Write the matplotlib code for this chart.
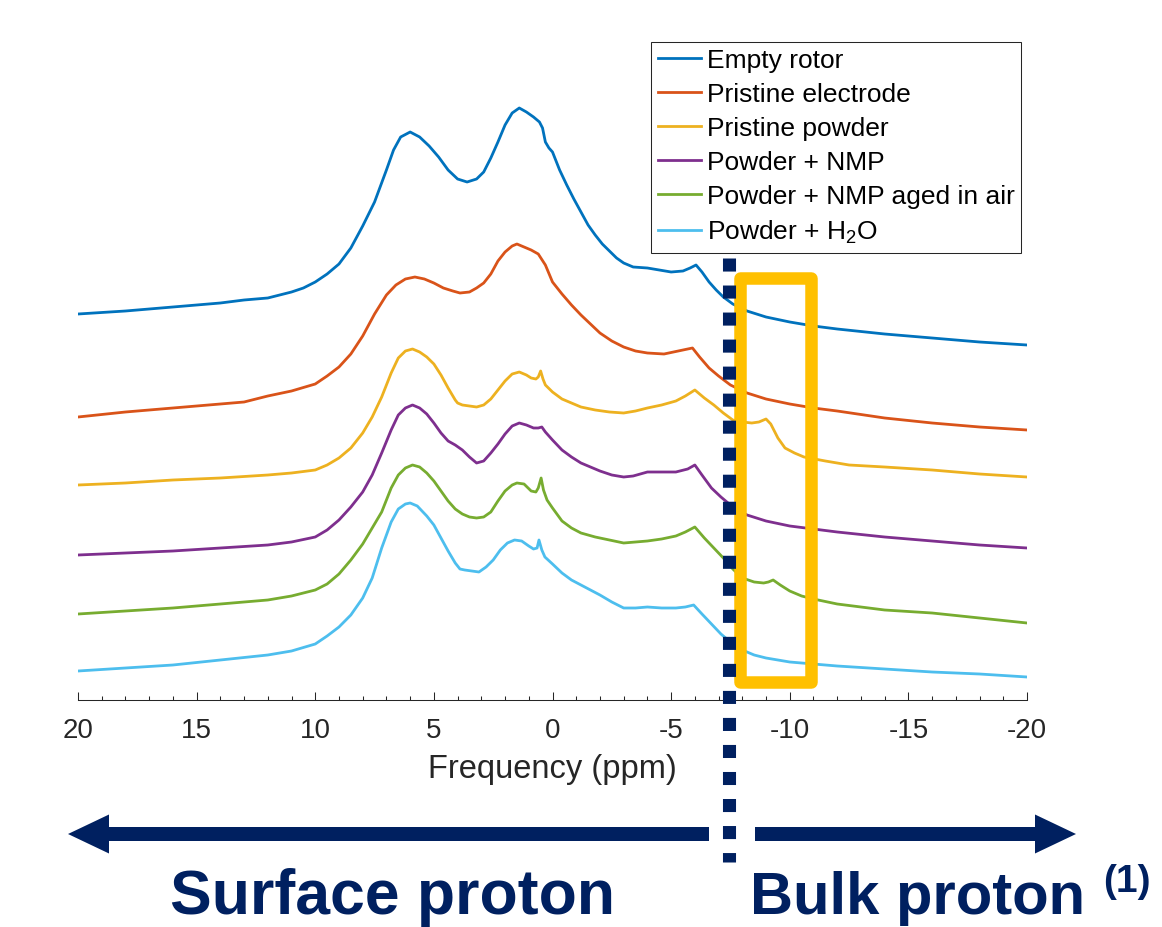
import matplotlib
matplotlib.use('Agg')
import matplotlib.pyplot as plt
from matplotlib.patches import FancyArrow, Rectangle
from matplotlib.ticker import MultipleLocator

plt.rcParams['font.family'] = ['Liberation Sans', 'DejaVu Sans']
plt.rcParams['mathtext.fontset'] = 'custom'
plt.rcParams['mathtext.rm'] = 'Liberation Sans'
plt.rcParams['mathtext.it'] = 'Liberation Sans:italic'
plt.rcParams['axes.unicode_minus'] = False

# 1H spectra (ppm, stacked intensity in a.u.)
empty_rotor_ppm = [20, 18, 16, 14, 13, 12, 11.5, 11, 10.5, 10, 9.5, 9, 8.5, 8, 7.5, 7, 6.7, 6.4,
                   6.0, 5.6, 5.2, 4.8, 4.4, 4.0, 3.6, 3.2, 2.9, 2.6, 2.3, 2.0, 1.7, 1.4, 1.1,
                   0.8, 0.55, 0.42, 0.3, 0.15, 0.0, -0.3, -0.6, -0.9, -1.2, -1.5, -1.8, -2.1,
                   -2.4, -2.7, -3.0, -3.4, -4.0, -4.5, -5.0, -5.5, -5.8, -6.05, -6.3, -6.6,
                   -6.9, -7.2, -7.6, -8.2, -9, -10, -11, -12, -14, -16, -18, -20]
empty_rotor = [3.86, 3.89, 3.93, 3.97, 4.00, 4.02, 4.05, 4.08, 4.12, 4.18, 4.26, 4.36, 4.52,
               4.74, 4.98, 5.30, 5.50, 5.63, 5.68, 5.63, 5.54, 5.43, 5.30, 5.21, 5.18, 5.21,
               5.28, 5.42, 5.58, 5.75, 5.87, 5.92, 5.88, 5.83, 5.78, 5.72, 5.58, 5.52, 5.48,
               5.30, 5.15, 5.01, 4.88, 4.75, 4.65, 4.56, 4.49, 4.42, 4.37, 4.33, 4.32, 4.30,
               4.28, 4.29, 4.32, 4.35, 4.28, 4.18, 4.10, 4.03, 3.96, 3.89, 3.83, 3.78, 3.74,
               3.71, 3.66, 3.62, 3.58, 3.55]

electrode_ppm = [20, 18, 16, 14, 13, 12, 11, 10, 9.5, 9, 8.5, 8, 7.5, 7, 6.6, 6.2, 5.8, 5.4,
                 5.0, 4.6, 4.2, 3.9, 3.5, 3.2, 2.9, 2.6, 2.3, 2.0, 1.7, 1.5, 1.2, 0.9, 0.6,
                 0.3, 0.0, -0.4, -0.8, -1.2, -1.6, -2.0, -2.5, -3.0, -3.5, -4.0, -4.7, -5.3,
                 -5.9, -6.2, -6.6, -7.0, -7.5, -8.2, -9, -10, -11, -12, -14, -16, -18, -20]
electrode = [2.83, 2.88, 2.92, 2.96, 2.98, 3.04, 3.09, 3.16, 3.24, 3.33, 3.46, 3.64, 3.86,
             4.05, 4.15, 4.21, 4.23, 4.21, 4.17, 4.12, 4.09, 4.07, 4.08, 4.12, 4.17, 4.26,
             4.39, 4.48, 4.54, 4.56, 4.53, 4.50, 4.46, 4.35, 4.18, 4.06, 3.95, 3.85, 3.76,
             3.67, 3.59, 3.53, 3.49, 3.47, 3.46, 3.49, 3.52, 3.43, 3.32, 3.24, 3.15, 3.07,
             3.01, 2.96, 2.92, 2.89, 2.82, 2.77, 2.73, 2.70]

powder_ppm = [20, 18, 16, 14, 12, 11, 10, 9.5, 9, 8.5, 8, 7.6, 7.2, 6.8, 6.5, 6.2, 5.9, 5.6,
              5.3, 5.0, 4.7, 4.4, 4.1, 4.0, 3.8, 3.5, 3.2, 2.9, 2.6, 2.3, 2.0, 1.7, 1.4, 1.1,
              0.9, 0.7, 0.6, 0.5, 0.4, 0.3, 0.0, -0.4, -0.8, -1.2, -1.8, -2.4, -3.0, -3.5,
              -4.0, -4.6, -5.2, -5.6, -6.0, -6.4, -6.8, -7.2, -7.6, -8.0, -8.4, -8.7, -9.0,
              -9.2, -9.5, -9.8, -10.2, -10.6, -11.5, -12.5, -14, -16, -18, -20]
powder = [2.15, 2.17, 2.20, 2.22, 2.25, 2.27, 2.30, 2.35, 2.42, 2.52, 2.67, 2.83, 3.03, 3.27,
          3.42, 3.49, 3.51, 3.48, 3.43, 3.36, 3.25, 3.12, 3.00, 2.97, 2.95, 2.94, 2.93, 2.95,
          3.01, 3.10, 3.19, 3.26, 3.28, 3.25, 3.22, 3.21, 3.23, 3.29, 3.21, 3.15, 3.08, 3.01,
          2.97, 2.93, 2.90, 2.88, 2.87, 2.89, 2.92, 2.95, 2.99, 3.04, 3.10, 3.02, 2.95, 2.87,
          2.80, 2.78, 2.77, 2.78, 2.81, 2.76, 2.62, 2.52, 2.47, 2.43, 2.39, 2.35, 2.33, 2.30,
          2.26, 2.23]

nmp_ppm = [20, 18, 16, 14, 12, 11, 10, 9.5, 9, 8.5, 8, 7.6, 7.2, 6.8, 6.5, 6.2, 5.9, 5.6,
           5.3, 5.0, 4.7, 4.4, 4.1, 3.8, 3.5, 3.2, 2.9, 2.6, 2.3, 2.0, 1.7, 1.4, 1.1, 0.8,
           0.6, 0.45, 0.3, 0.0, -0.4, -0.8, -1.2, -1.6, -2.0, -2.5, -3.0, -3.4, -4.0, -4.6,
           -5.2, -5.7, -6.0, -6.3, -6.7, -7.1, -7.6, -8.2, -9, -10, -11, -12, -14, -16,
           -18, -20]
nmp = [1.45, 1.47, 1.49, 1.52, 1.55, 1.58, 1.63, 1.70, 1.80, 1.93, 2.08, 2.25, 2.47, 2.70,
       2.85, 2.92, 2.95, 2.92, 2.86, 2.77, 2.67, 2.59, 2.55, 2.50, 2.43, 2.37, 2.39, 2.47,
       2.56, 2.66, 2.74, 2.77, 2.75, 2.72, 2.72, 2.73, 2.68, 2.60, 2.50, 2.43, 2.37, 2.33,
       2.29, 2.25, 2.23, 2.24, 2.28, 2.28, 2.28, 2.31, 2.35, 2.25, 2.12, 2.03, 1.93, 1.85,
       1.79, 1.74, 1.71, 1.68, 1.63, 1.59, 1.55, 1.52]

nmp_air_ppm = [20, 18, 16, 14, 12, 11, 10, 9.5, 9, 8.5, 8, 7.6, 7.2, 6.8, 6.5, 6.2, 5.9, 5.6,
               5.3, 5.0, 4.7, 4.4, 4.1, 3.8, 3.5, 3.2, 2.9, 2.6, 2.3, 2.0, 1.7, 1.5, 1.2, 0.9,
               0.7, 0.6, 0.48, 0.38, 0.23, 0.0, -0.4, -0.8, -1.2, -1.8, -2.4, -3.0, -3.5, -4.0,
               -4.6, -5.2, -5.6, -6.0, -6.4, -6.8, -7.2, -7.6, -8.0, -8.5, -8.9, -9.1, -9.3,
               -9.6, -10.0, -10.5, -11, -12, -14, -16, -18, -20]
nmp_air = [0.86, 0.89, 0.92, 0.96, 1.00, 1.04, 1.10, 1.16, 1.26, 1.40, 1.56, 1.72, 1.88, 2.12,
           2.25, 2.32, 2.35, 2.33, 2.27, 2.19, 2.09, 1.99, 1.91, 1.86, 1.83, 1.82, 1.83, 1.88,
           1.99, 2.09, 2.15, 2.17, 2.16, 2.09, 2.08, 2.12, 2.22, 2.10, 2.00, 1.92, 1.79, 1.72,
           1.67, 1.63, 1.60, 1.57, 1.58, 1.59, 1.61, 1.64, 1.68, 1.73, 1.62, 1.52, 1.42, 1.31,
           1.22, 1.18, 1.17, 1.18, 1.20, 1.15, 1.09, 1.04, 1.01, 0.96, 0.90, 0.87, 0.82, 0.77]

water_ppm = [20, 18, 16, 14, 12, 11, 10, 9.5, 9, 8.5, 8, 7.6, 7.2, 6.8, 6.5, 6.2, 6.0, 5.7,
             5.3, 5.0, 4.7, 4.4, 4.1, 3.9, 3.7, 3.4, 3.1, 2.8, 2.5, 2.2, 1.9, 1.6, 1.3, 1.0,
             0.8, 0.65, 0.57, 0.45, 0.32, 0.0, -0.4, -0.8, -1.2, -1.6, -2.0, -2.5, -3.0, -3.5,
             -4.0, -4.6, -5.2, -5.6, -5.95, -6.3, -6.7, -7.1, -7.5, -8.0, -8.5, -9, -10, -11,
             -12, -14, -16, -18, -20]
water = [0.29, 0.32, 0.35, 0.40, 0.45, 0.49, 0.56, 0.64, 0.73, 0.85, 1.02, 1.22, 1.52, 1.78,
         1.91, 1.96, 1.97, 1.94, 1.84, 1.75, 1.62, 1.49, 1.37, 1.31, 1.30, 1.29, 1.28, 1.33,
         1.40, 1.50, 1.57, 1.60, 1.59, 1.54, 1.51, 1.52, 1.60, 1.50, 1.43, 1.36, 1.27, 1.20,
         1.15, 1.10, 1.05, 0.98, 0.92, 0.92, 0.93, 0.92, 0.92, 0.93, 0.95, 0.86, 0.76, 0.66,
         0.58, 0.50, 0.45, 0.42, 0.38, 0.36, 0.34, 0.31, 0.28, 0.26, 0.23]

series = [
    ('Empty rotor', empty_rotor_ppm, empty_rotor, '#0072BD'),
    ('Pristine electrode', electrode_ppm, electrode, '#D95319'),
    ('Pristine powder', powder_ppm, powder, '#EDB120'),
    ('Powder + NMP', nmp_ppm, nmp, '#7E2F8E'),
    ('Powder + NMP aged in air', nmp_air_ppm, nmp_air, '#77AC30'),
    ('Powder + H$_2$O', water_ppm, water, '#4DBEEE'),
]
xticks = [20, 15, 10, 5, 0, -5, -10, -15, -20]

navy = '#002060'
gray = '#262626'

fig = plt.figure(figsize=(11.62, 9.27), dpi=100)
ax = fig.add_axes([78 / 1162, 1 - 700 / 927, 949 / 1162, 640 / 927])

for name, x, y, c in series:
    ax.plot(x, y, color=c, lw=2.0, label=name)

ax.set_xlim(20, -20)
ax.set_ylim(0, 6.4)
ax.set_xticks(xticks)
ax.set_xticklabels([str(t) for t in xticks])
ax.xaxis.set_minor_locator(MultipleLocator(1))
ax.set_yticks([])
for s in ('left', 'top', 'right'):
    ax.spines[s].set_visible(False)
ax.spines['bottom'].set_color(gray)
ax.spines['bottom'].set_linewidth(0.75)
ax.tick_params(axis='x', which='major', direction='in', length=5.8, width=0.75,
               color=gray, labelsize=20, labelcolor=gray, pad=13)
ax.tick_params(axis='x', which='minor', direction='in', length=2.9, width=0.75, color=gray)
ax.set_xlabel('Frequency (ppm)', fontsize=23.5, color=gray, labelpad=7)

# bulk region highlight
ax.add_patch(Rectangle((-10.9, 0.18), 2.98, 4.045, fill=False, edgecolor='#FFC000',
                       lw=9, joinstyle='round', zorder=5, clip_on=False))

leg = ax.legend(loc='upper right', bbox_to_anchor=(1021 / 1162, 1 - 42 / 927),
                bbox_transform=fig.transFigure, fontsize=19, fancybox=False,
                edgecolor=gray, framealpha=1, borderpad=0.25, labelspacing=0.38,
                handlelength=1.65, handletextpad=0.2, borderaxespad=0)
leg.get_frame().set_linewidth(0.75)

# overlay in pixel units for the annotations
ov = fig.add_axes([0, 0, 1, 1], zorder=3)
ov.set_xlim(0, 1162)
ov.set_ylim(927, 0)
ov.axis('off')

ov.plot([729, 729], [258, 862], color=navy, lw=9.4, linestyle=(0, (1.0, 1.07)),
        dash_capstyle='butt')
ov.add_patch(FancyArrow(709, 834, 68 - 709, 0, width=14, head_width=39, head_length=41,
                        length_includes_head=True, color=navy, lw=0))
ov.add_patch(FancyArrow(755, 834, 1076 - 755, 0, width=14, head_width=39, head_length=41,
                        length_includes_head=True, color=navy, lw=0))
ov.text(392, 914, 'Surface proton', ha='center', va='baseline', fontsize=45,
        fontweight='bold', color=navy)
ov.text(750, 914, 'Bulk proton', ha='left', va='baseline', fontsize=43,
        fontweight='bold', color=navy)
ov.text(1127, 892, '(1)', ha='center', va='baseline', fontsize=28,
        fontweight='bold', color=navy)

fig.savefig('out.png', dpi=100)
